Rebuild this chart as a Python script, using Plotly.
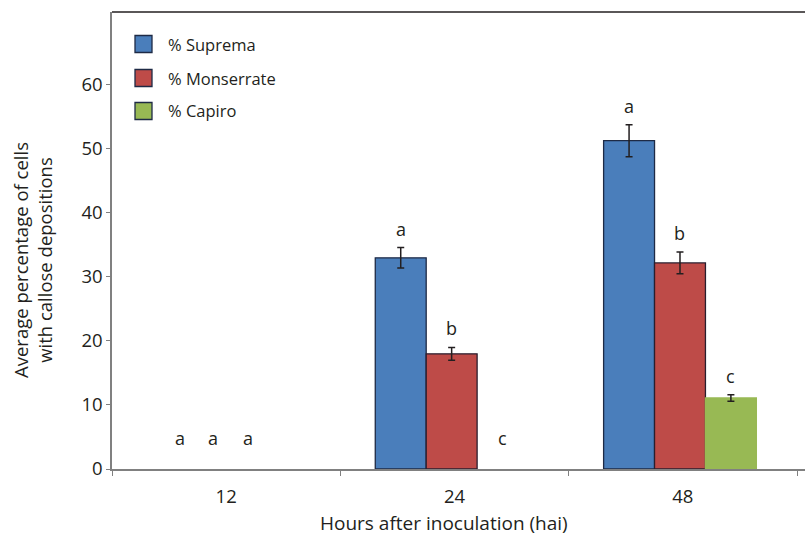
import plotly.graph_objects as go

# ---- data ----
categories = ["12", "24", "48"]
series_names = ["% Suprema", "% Monserrate", "% Capiro"]
suprema = [0, 33.0, 51.3]
monserrate = [0, 18.0, 32.2]
capiro = [0, 0, 11.1]
suprema_err = [0, 1.6, 2.5]
monserrate_err = [0, 1.0, 1.7]
capiro_err = [0, 0, 0.5]
sig_suprema = ["a", "a", "a"]
sig_monserrate = ["a", "b", "b"]
sig_capiro = ["a", "c", "c"]
y_ticks = [0, 10, 20, 30, 40, 50, 60]

# ---- style ----
fills = ["#4A7EBB", "#BE4B48", "#98B954"]
outlines = ["#1E2A45", "#2A1E2E", "#98B954"]
bar_offsets = [-0.347, -0.124, 0.099]
bar_width = 0.223
# letter x-adjust for the empty 12 h group (letters placed closer together)
zero_group_letter_dx = [0.035, -0.047, -0.113]
FONT = "Open Sans"
TXT = "#231F20"

values = [suprema, monserrate, capiro]
errors = [suprema_err, monserrate_err, capiro_err]
sigs = [sig_suprema, sig_monserrate, sig_capiro]
xs = list(range(len(categories)))

fig = go.Figure()
for i in range(3):
    fig.add_trace(go.Bar(
        x=xs, y=values[i], name=series_names[i],
        offset=bar_offsets[i], width=bar_width,
        marker=dict(color=fills[i],
                    line=dict(color=outlines[i],
                              width=[0 if v == 0 else 1.3 for v in values[i]])),
        showlegend=False,
    ))
    # error bars only where a bar exists
    ex = [x for x, v in zip(xs, values[i]) if v > 0]
    ey = [v for v in values[i] if v > 0]
    ee = [e for e, v in zip(errors[i], values[i]) if v > 0]
    fig.add_trace(go.Scatter(
        x=[x + bar_offsets[i] + bar_width / 2 for x in ex], y=ey, mode="markers",
        marker=dict(size=1, color="rgba(0,0,0,0)"),
        error_y=dict(type="data", array=ee, visible=True,
                     color="#231F20", thickness=1.5, width=3.5),
        showlegend=False, hoverinfo="skip",
    ))

annotations = []
for i in range(3):
    for j in xs:
        v = values[i][j]
        e = errors[i][j]
        cx = j + bar_offsets[i] + bar_width / 2
        if v == 0 and j == 0:
            cx += zero_group_letter_dx[i]
        annotations.append(dict(
            x=cx, y=v + e, xref="x", yref="y", text=sigs[i][j],
            showarrow=False, yanchor="bottom", xanchor="center",
            yshift=17 if v == 0 else 5,
            font=dict(family=FONT, size=18, color=TXT)))

# custom legend
leg_y = [44, 78, 111]
H = 536
W = 805
PW = W - 112
PH = 457
shapes = []
for i in range(3):
    yc = leg_y[i]
    shapes.append(dict(type="rect", xref="paper", yref="paper",
                       x0=(135 - 112) / PW, x1=(152 - 112) / PW,
                       y0=(469 - (yc - 8.5)) / PH, y1=(469 - (yc + 8.5)) / PH,
                       fillcolor=fills[i], line=dict(color="#1E2A45", width=1.3)))
    annotations.append(dict(x=(166 - 112) / PW, y=(469 - yc) / PH,
                            xref="paper", yref="paper", text=series_names[i],
                            showarrow=False, xanchor="left", yanchor="middle",
                            font=dict(family=FONT, size=16.5, color=TXT)))

# top border line
shapes.append(dict(type="line", xref="paper", yref="paper", x0=0, x1=1, y0=1, y1=1,
                   line=dict(color="#231F20", width=1.5)))

# axis titles
annotations.append(dict(x=(444 - 112) / PW, y=(469 - 523) / PH,
                        xref="paper", yref="paper",
                        text="Hours after inoculation (hai)", showarrow=False,
                        xanchor="center", yanchor="middle",
                        font=dict(family=FONT, size=19, color=TXT)))
annotations.append(dict(x=(32 - 112) / PW, y=(469 - 260) / PH,
                        xref="paper", yref="paper",
                        text="Average percentage of cells<br>with callose depositions",
                        showarrow=False, textangle=-90, xanchor="center",
                        yanchor="middle",
                        font=dict(family=FONT, size=18.5, color=TXT)))

fig.update_layout(
    width=W, height=H,
    margin=dict(l=112, r=0, t=12, b=67),
    paper_bgcolor="white", plot_bgcolor="white",
    barmode="overlay",
    shapes=shapes, annotations=annotations,
    font=dict(family=FONT, color=TXT),
)
fig.update_xaxes(
    range=[-0.5, 2.535], tickmode="array", tickvals=xs, ticktext=categories,
    ticks="", ticklabelstandoff=10, showline=True, linecolor="#808080", linewidth=1.5,
    showgrid=False, zeroline=False, automargin=False,
    tickfont=dict(family=FONT, size=18.5, color=TXT),
    minor=dict(tickmode="array", tickvals=[-0.5, 0.5, 1.5, 2.5], ticks="outside",
               ticklen=5, tickcolor="#808080", tickwidth=1.2),
)
fig.update_yaxes(
    range=[0, 71.4], tickmode="array", tickvals=y_ticks,
    ticks="outside", ticklen=4, tickcolor="#808080", tickwidth=1,
    showline=True, linecolor="#808080", linewidth=1.5,
    showgrid=False, zeroline=False, automargin=False,
    tickfont=dict(family=FONT, size=18.5, color=TXT),
)

fig.write_html("out.html", config={"displayModeBar": False},
               post_script="document.body.style.margin='0';")
